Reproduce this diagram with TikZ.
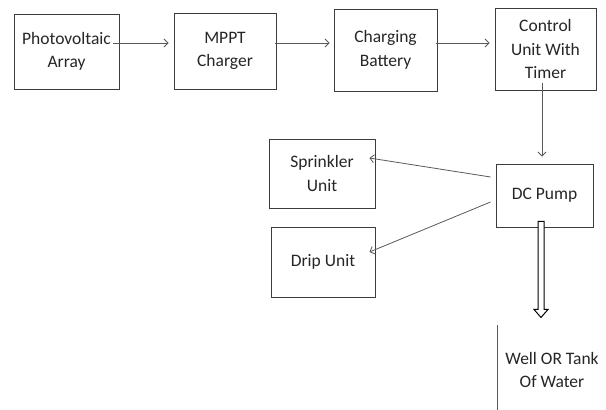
\documentclass[tikz,border=0pt]{standalone}
\usepackage{fontspec}
\setmainfont{Carlito}
\usetikzlibrary{arrows.meta,calc}
\definecolor{boxline}{HTML}{3C3C3C}
\definecolor{arrline}{HTML}{5A5A5A}
\definecolor{txt}{HTML}{262626}
\begin{document}
\begin{tikzpicture}[x=1pt,y=-1pt,
  blk/.style={draw=boxline,line width=0.9pt,rectangle,inner sep=0pt,align=center,
    font=\fontsize{17.5}{23.5}\selectfont,text=txt},
  conn/.style={draw=arrline,line width=0.8pt,-{Straight Barb[length=4pt,width=8pt]}},
  blockarrow/.style={draw=black,line width=1pt,fill=white,line join=miter},
  lbl/.style={inner sep=0pt,align=center,font=\fontsize{17.5}{23.5}\selectfont,text=txt}]
\useasboundingbox (0,0) rectangle (606,410);
\fill[white] (0,0) rectangle (606,410);

\node[blk,minimum width=105pt,minimum height=75pt] (pv) at (66.5,51.5) {Photovoltaic\\Array};
\node[blk,minimum width=102pt,minimum height=76pt] (mppt) at (225,51) {MPPT\\Charger};
\node[blk,minimum width=103pt,minimum height=82pt] (bat) at (385.5,50) {Charging\\Battery};
\node[blk,minimum width=101pt,minimum height=82pt] (ctrl) at (545.5,49) {Control\\Unit With\\Timer};
\node[blk,minimum width=106pt,minimum height=69pt] (spr) at (322,173.5) {Sprinkler\\Unit};
\node[blk,minimum width=104pt,minimum height=70pt] (drip) at (323,262) {Drip Unit};
\node[blk,minimum width=97pt,minimum height=63pt] (pump) at (544.5,195.5) {DC Pump};
\node[lbl] (well) at (552,370) {Well OR Tank\\Of Water};
\coordinate (wtop) at (497,325);
\coordinate (wbot) at (497,410);

\draw[conn] ($(pv.east)+(-6,-8.5)$) -- ($(mppt.west)+(-5,-8)$);
\draw[conn] ($(mppt.east)+(-1,-8)$) -- ($(bat.west)+(-4,-7)$);
\draw[conn] ($(bat.east)+(-1,-7)$) -- ($(ctrl.west)+(-5,-6)$);
\draw[conn] ($(ctrl.south)+(-3.5,-7)$) -- ($(pump.north)+(-2.5,-7)$);
\draw[conn] ($(pump.west)+(-5,-18.5)$) -- ($(spr.east)+(-6,-15.5)$);
\draw[conn] ($(pump.west)+(-5,6.5)$) -- ($(drip.east)+(-6,-10)$);

\coordinate (pt) at ($(pump.south)+(-3.5,-6)$);
\draw[blockarrow] (pt) ++(-3,0) -- ++(6,0) -- ++(0,88) -- ++(4,0) -- ++(-7,8) -- ++(-7,-8) -- ++(4,0) -- cycle;

\draw[draw=arrline,line width=0.9pt] (wtop) -- (wbot);
\end{tikzpicture}
\end{document}
